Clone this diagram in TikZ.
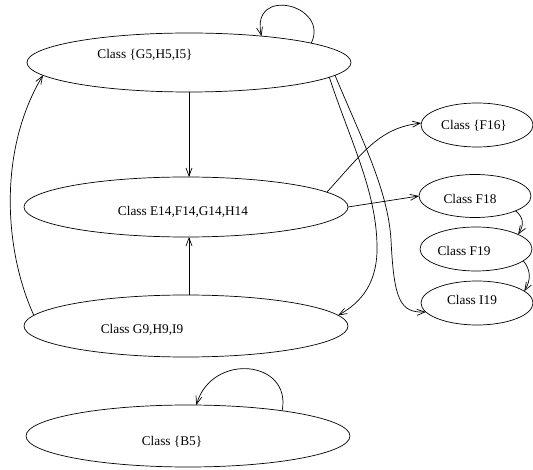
\documentclass[tikz,border=0pt]{standalone}
\usepackage{fontspec}
\setmainfont{Liberation Serif}
\usetikzlibrary{shapes.geometric,arrows.meta}
\begin{document}
\begin{tikzpicture}[x=1pt,y=-1pt,
  ell/.style={ellipse, draw, inner sep=0pt, outer sep=0pt, line width=0.7pt},
  big/.style={ell, minimum width=324pt, minimum height=59pt},
  small/.style={ell, minimum width=112pt, minimum height=44pt},
  lbl/.style={font=\fontsize{13.3}{16}\selectfont, inner sep=0pt},
  arr/.style={line width=0.7pt, -{Straight Barb[length=8pt,width=6pt]}}]
\useasboundingbox (0,0) rectangle (533,470);
% ellipses
\node[big] (G5) at (189,62.5) {};
\node[big, minimum height=60pt] (E14) at (186,207) {};
\node[big, minimum height=62pt] (G9) at (186,326) {};
\node[big, minimum height=62pt] (B5) at (188,436) {};
\node[small] (F16) at (477,125) {};
\node[small, minimum height=43pt] (F18) at (475,196) {};
\node[small] (F19) at (476,249) {};
\node[small] (I19) at (477,303) {};
% labels
\node[lbl] (G5t) at (145,55) {Class \{G5,H5,I5\}};
\node[lbl] (E14t) at (183,212) {Class E14,F14,G14,H14};
\node[lbl] (G9t) at (142,330) {Class G9,H9,I9};
\node[lbl] (B5t) at (172,442) {Class \{B5\}};
\node[lbl] (F16t) at (474,126) {Class \{F16\}};
\node[lbl] (F18t) at (470,199) {Class F18};
\node[lbl] (F19t) at (464,251) {Class F19};
\node[lbl] (I19t) at (472,300) {Class I19};
% connectors
\draw[arr] (G5.south) -- (G5.south |- E14.north);
\draw[arr] (G9.north -| G5.south) -- (G5.south |- E14.south);
\draw[arr] (G9.176.8) .. controls (4,250) and (-2,150) .. (G5.185.7);
\draw[arr] (G5.-6.4) .. controls (350,140) and (376,190) .. (377,245)
  .. controls (378,282) and (362,302) .. (G9.4);
\draw[arr] (G5.-5) .. controls (362,140) and (388,190) .. (391,240)
  .. controls (394,300) and (400,313) .. (I19.190);
\draw[arr] (E14.6) .. controls (365,150) and (380,128) .. (F16.178);
\draw[arr] (E14.east) -- (F18.west);
\draw[arr] (F18.-20.4) .. controls (524,218) and (524,225) .. (F19.19.2);
\draw[arr] (F19.-14.3) .. controls (531,270) and (531,280) .. (I19.14.3);
\draw[arr] (G5.9) .. controls (330,5) and (250,-15) .. (G5.20);
\draw[arr] (B5.15.5) .. controls (292,360) and (212,352) .. (B5.75);
\end{tikzpicture}
\end{document}
